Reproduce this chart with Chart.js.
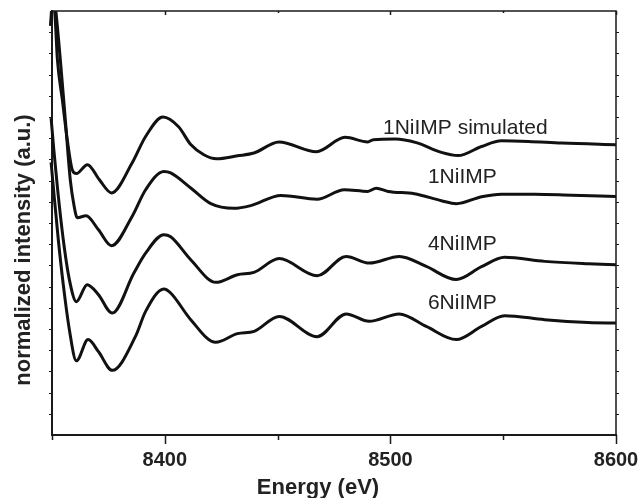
<!DOCTYPE html>
<html>
<head>
<meta charset="utf-8">
<script src="https://cdn.jsdelivr.net/npm/chart.js@4.4.0/dist/chart.umd.min.js"></script>
<style>
  html, body { margin: 0; padding: 0; background: #fff; }
  #wrap { width: 638px; height: 498px; }
</style>
</head>
<body>
<div id="wrap"><canvas id="xanesChart" width="638" height="498"></canvas></div>
<script>
// series names and tick labels
const seriesNames = ['1NiIMP simulated', '1NiIMP', '4NiIMP', '6NiIMP'];
const xTickLabels = [8400, 8500, 8600];

// 1NiIMP simulated
const energySim = [8349.3, 8350.3, 8351.2, 8352.4, 8354.6, 8356.8, 8359.0, 8360.8, 8365.7, 8371.0, 8376.4, 8385.5, 8391.5, 8399.2, 8406.1, 8411.5, 8417.3, 8423.0, 8432.2, 8439.5, 8450.6, 8467.2, 8479.9, 8490.0, 8492.4, 8502.1, 8511.5, 8522.6, 8530.0, 8540.4, 8549.2, 8561.2, 8575.9, 8600.8];
const intensitySim = [19.3, 20.5, 20.0, 17.7, 15.8, 13.9, 12.5, 12.33, 12.75, 12.04, 11.42, 12.83, 14.08, 15.0, 14.54, 13.7, 13.22, 13.03, 13.17, 13.3, 13.82, 13.36, 14.04, 13.82, 13.93, 13.96, 13.79, 13.33, 13.18, 13.61, 13.88, 13.85, 13.77, 13.69];

// 1NiIMP
const energy1 = [8350.5, 8351.7, 8353.7, 8355.9, 8358.1, 8359.7, 8361.2, 8365.1, 8370.6, 8376.4, 8385.5, 8391.5, 8399.6, 8402.6, 8411.5, 8420.4, 8430.6, 8438.1, 8451.5, 8467.5, 8479.6, 8490.0, 8493.7, 8499.0, 8510.6, 8522.6, 8529.2, 8540.4, 8549.2, 8563.9, 8580.4, 8600.7];
const intensity1 = [21.0, 20.0, 17.7, 14.88, 12.04, 10.86, 10.25, 10.34, 9.68, 8.93, 10.31, 11.57, 12.43, 12.36, 11.65, 10.91, 10.69, 10.82, 11.30, 11.12, 11.57, 11.49, 11.64, 11.49, 11.38, 11.05, 10.91, 11.24, 11.36, 11.36, 11.31, 11.25];

// 4NiIMP
const energy4 = [8349.6, 8350.8, 8352.5, 8355.0, 8357.7, 8360.8, 8365.6, 8370.6, 8376.7, 8386.3, 8391.5, 8399.6, 8402.6, 8411.5, 8422.6, 8432.2, 8439.5, 8450.7, 8467.5, 8480.4, 8490.7, 8504.0, 8515.9, 8529.2, 8540.4, 8550.6, 8568.4, 8587.7, 8600.8];
const intensity4 = [14.95, 13.46, 11.57, 9.21, 7.33, 6.29, 7.09, 6.62, 5.75, 7.64, 8.58, 9.45, 9.35, 8.27, 7.20, 7.56, 7.67, 8.32, 7.51, 8.42, 8.11, 8.42, 7.95, 7.33, 7.94, 8.38, 8.19, 8.08, 8.03];

// 6NiIMP
const energy6 = [8349.6, 8350.7, 8352.8, 8355.0, 8357.7, 8360.8, 8366.0, 8370.6, 8376.7, 8387.0, 8391.5, 8399.6, 8402.6, 8411.5, 8422.6, 8432.2, 8439.6, 8450.7, 8467.5, 8480.4, 8490.6, 8503.9, 8515.9, 8529.2, 8540.4, 8550.6, 8568.4, 8587.7, 8600.8];
const intensity6 = [12.86, 11.57, 9.21, 7.09, 4.97, 3.50, 4.50, 3.93, 3.05, 4.65, 5.83, 6.89, 6.70, 5.44, 4.37, 4.78, 4.89, 5.59, 4.64, 5.71, 5.36, 5.71, 5.12, 4.50, 5.12, 5.63, 5.44, 5.31, 5.28];

const FONT = 'Arial, "Liberation Sans", Helvetica, sans-serif';
const INK = '#1a1a1a';

function toPoints(xs, ys) {
    return xs.map((x, i) => ({ x: x, y: ys[i] }));
}

function serie(label, xs, ys) {
    return {
        label: label,
        data: toPoints(xs, ys),
        borderColor: '#111',
        borderWidth: 3,
        pointRadius: 0,
        fill: false,
        cubicInterpolationMode: 'monotone',
        clip: { left: 3, top: 0, right: 0, bottom: 0 }
    };
}

// marcos, ticks pequeños, etiquetas de curvas y títulos de ejes
const framePlugin = {
    id: 'frame',
    afterDraw(chart) {
        const c = chart.ctx;
        const a = chart.chartArea;
        const x = chart.scales.x;
        const y = chart.scales.y;
        c.save();
        c.strokeStyle = INK;

        // top + right border
        c.lineWidth = 1.5;
        c.beginPath();
        c.moveTo(a.left, a.top);
        c.lineTo(a.right, a.top);
        c.lineTo(a.right, a.bottom);
        c.stroke();

        // x ticks (bottom outward, top inward)
        for (let e = 8350; e <= 8600; e += 50) {
            const px = Math.round(x.getPixelForValue(e)) + 0.5;
            const major = e % 100 === 0;
            c.lineWidth = 1.5;
            c.beginPath();
            c.moveTo(px, a.bottom);
            c.lineTo(px, a.bottom + (major ? 9 : 5));
            c.moveTo(px, a.top);
            c.lineTo(px, a.top + (major ? 4 : 2));
            c.stroke();
        }

        // y ticks, left and right, outward
        c.lineWidth = 1;
        for (let v = 1; v < 20; v++) {
            const py = Math.round(y.getPixelForValue(v)) + 0.5;
            c.beginPath();
            c.moveTo(a.left - 3, py);
            c.lineTo(a.left, py);
            c.moveTo(a.right, py);
            c.lineTo(a.right + 3, py);
            c.stroke();
        }

        // curve labels
        const anchors = [[8533.2, 14.19], [8531.9, 11.90], [8531.9, 8.74], [8531.9, 5.96]];
        c.fillStyle = '#222';
        c.font = '21px ' + FONT;
        c.textAlign = 'center';
        c.textBaseline = 'alphabetic';
        seriesNames.forEach((name, i) => {
            c.fillText(name, x.getPixelForValue(anchors[i][0]), y.getPixelForValue(anchors[i][1]));
        });

        // axis titles
        c.font = 'bold 22px ' + FONT;
        c.fillText('Energy (eV)', 318, 494);
        c.translate(30, 250);
        c.rotate(-Math.PI / 2);
        c.fillText('normalized intensity (a.u.)', 0, 0);
        c.restore();
    }
};

const ctx = document.getElementById('xanesChart');
new Chart(ctx, {
    type: 'line',
    data: {
        datasets: [
            serie(seriesNames[0], energySim, intensitySim),
            serie(seriesNames[1], energy1, intensity1),
            serie(seriesNames[2], energy4, intensity4),
            serie(seriesNames[3], energy6, intensity6)
        ]
    },
    options: {
        responsive: false,
        animation: false,
        devicePixelRatio: 1,
        layout: { padding: { top: 11, right: 0, left: 0, bottom: 0 } },
        plugins: {
            legend: { display: false },
            tooltip: { enabled: false }
        },
        scales: {
            x: {
                type: 'linear',
                min: 8350,
                max: 8600,
                grid: { display: false, drawTicks: false },
                border: { display: true, color: INK, width: 2 },
                ticks: {
                    stepSize: 50,
                    autoSkip: false,
                    maxRotation: 0,
                    padding: 13,
                    color: '#222',
                    font: { family: FONT, size: 20, weight: 'bold' },
                    callback: (v) => xTickLabels.includes(v) ? String(v) : ''
                },
                afterFit(scale) {
                    scale.height = 63;
                    scale.paddingLeft = 0;
                    scale.paddingRight = 22;
                }
            },
            y: {
                min: 0,
                max: 20,
                grid: { display: false, drawTicks: false },
                border: { display: true, color: INK, width: 2 },
                ticks: { display: false },
                afterFit(scale) { scale.width = 52; }
            }
        }
    },
    plugins: [framePlugin]
});
</script>
</body>
</html>
